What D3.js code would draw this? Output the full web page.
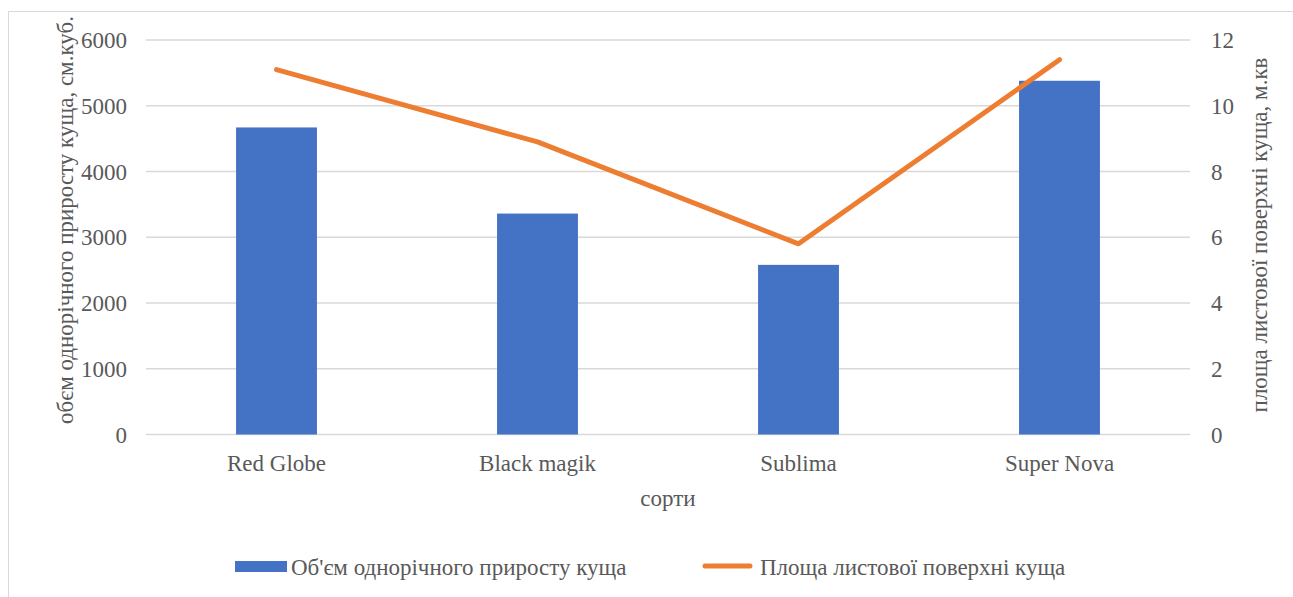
<!DOCTYPE html>
<html><head><meta charset="utf-8">
<script src="https://cdn.jsdelivr.net/npm/d3@7"></script>
<style>body{margin:0;background:#fff}svg{display:block}</style>
</head><body><svg id="c" width="1293" height="597"></svg>
<script>
const categories = ["Red Globe","Black magik","Sublima","Super Nova"];
const volumeValues = [4670, 3360, 2580, 5380];
const areaValues = [11.1, 8.9, 5.8, 11.4];
const leftTicks = [0,1000,2000,3000,4000,5000,6000];
const rightTicks = [0,2,4,6,8,10,12];
const seriesNames = ["Об'єм однорічного приросту куща","Площа листової поверхні куща"];
const leftTitle = "обєм однорічного приросту куща, см.куб.";
const rightTitle = "площа листової поверхні куща, м.кв";
const xTitle = "сорти";

const FONT = "'Liberation Serif', Tinos, 'DejaVu Serif', monospace";
const svg = d3.select("#c");
const m = {l:146, r:1190, t:40, b:434.5};
svg.append("rect").attr("x",8.5).attr("y",11.5).attr("width",1300).attr("height",600)
  .attr("fill","none").attr("stroke","#d9d9d9");
const x = d3.scaleBand().domain(categories).range([m.l,m.r]).paddingInner(0.69).paddingOuter(0.345);
const xc = d3.scalePoint().domain(categories).range([m.l,m.r]).padding(0.5);
const yL = d3.scaleLinear().domain([0,6000]).range([m.b,m.t]);
const yR = d3.scaleLinear().domain([0,12]).range([m.b,m.t]);
const fs = 23;
function T(sel){ return sel.style("font-family",FONT).attr("fill","#595959").attr("font-size",fs); }
// grid
svg.append("g").selectAll("line").data(leftTicks).join("line")
  .attr("x1",m.l).attr("x2",m.r).attr("y1",d=>yL(d)).attr("y2",d=>yL(d))
  .attr("stroke","#d9d9d9").attr("stroke-width",1.5);
// ticks
T(svg.append("g").selectAll("text").data(leftTicks).join("text"))
  .attr("x",127).attr("y",d=>yL(d)+8).attr("text-anchor","end").text(d=>d);
T(svg.append("g").selectAll("text").data(rightTicks).join("text"))
  .attr("x",1211).attr("y",d=>yR(d)+8).attr("text-anchor","start").text(d=>d);
// bars
svg.append("g").selectAll("rect").data(categories).join("rect")
  .attr("x",d=>x(d)).attr("width",x.bandwidth())
  .attr("y",(d,i)=>yL(volumeValues[i])).attr("height",(d,i)=>m.b-yL(volumeValues[i]))
  .attr("fill","#4472C4");
// line
const line = d3.line().x((d,i)=>xc(categories[i])).y(d=>yR(d));
svg.append("path").datum(areaValues).attr("d",line).attr("fill","none")
  .attr("stroke","#ED7D31").attr("stroke-width",5).attr("stroke-linecap","round").attr("stroke-linejoin","round");
// x labels
T(svg.append("g").selectAll("text").data(categories).join("text"))
  .attr("x",d=>xc(d)).attr("y",471).attr("text-anchor","middle").text(d=>d);
T(svg.append("text")).attr("x",668).attr("y",506).attr("text-anchor","middle").text(xTitle);
T(svg.append("text")).attr("transform","translate(73,220) rotate(-90)").attr("text-anchor","middle").text(leftTitle);
T(svg.append("text")).attr("transform","translate(1267,235) rotate(-90)").attr("text-anchor","middle").text(rightTitle);
// legend
svg.append("rect").attr("x",235).attr("y",561).attr("width",52).attr("height",11).attr("fill","#4472C4");
T(svg.append("text")).attr("x",291).attr("y",575).text(seriesNames[0]);
svg.append("line").attr("x1",705).attr("x2",750).attr("y1",566).attr("y2",566).attr("stroke","#ED7D31").attr("stroke-width",5).attr("stroke-linecap","round");
T(svg.append("text")).attr("x",760).attr("y",575).text(seriesNames[1]);
</script></body></html>
